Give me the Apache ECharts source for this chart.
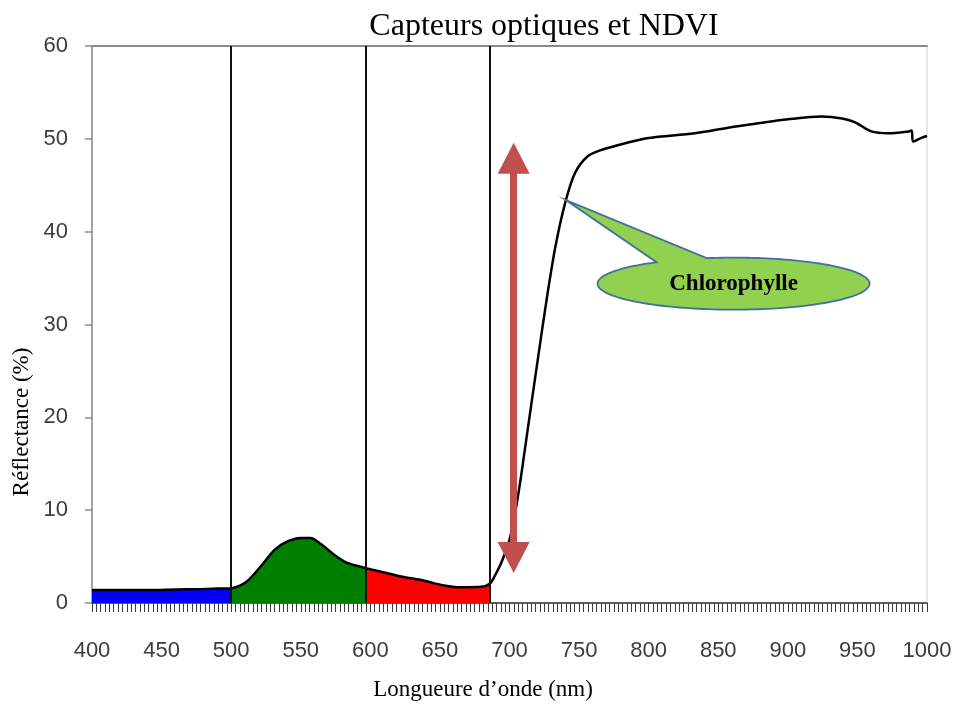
<!DOCTYPE html>
<html><head><meta charset="utf-8">
<script src="https://cdn.jsdelivr.net/npm/echarts@6/dist/echarts.min.js"></script>
<style>html,body{margin:0;padding:0;background:#fff}#c{width:958px;height:711px}</style>
</head><body><div id="c"></div>
<script>
// ---- data ----
const wavelengths = [400, 420, 440, 460, 480, 490, 500, 511, 521, 531, 540, 550, 557, 564, 574, 583, 597, 607, 622, 636, 651, 665, 680, 686, 689, 694, 700, 706, 713, 720, 727, 733, 740, 747, 756, 766, 785, 800, 833, 857, 880, 900, 924, 939, 948, 960, 972, 987, 989, 990, 996, 1000];
const reflectance = [1.4, 1.4, 1.4, 1.45, 1.5, 1.55, 1.6, 2.3, 3.9, 5.7, 6.6, 7.0, 7.0, 6.4, 5.2, 4.35, 3.75, 3.4, 2.85, 2.5, 1.95, 1.7, 1.75, 2.1, 2.8, 4.3, 6.8, 11.4, 18.6, 25.9, 33.0, 38.4, 43.1, 46.3, 48.1, 48.8, 49.6, 50.1, 50.6, 51.2, 51.7, 52.1, 52.4, 52.2, 51.8, 50.8, 50.6, 50.8, 50.9, 49.7, 50.1, 50.3];
const bandEdges = [500, 597, 686];          // vertical band separators (nm)
const bands = [                              // [from, to, colour]
  [400, 500, '#0000ff'],
  [500, 597, '#008000'],
  [597, 686, '#ff0000']
];
const arrowWavelength = 703;
const arrowRange = [4.9, 47.9];
const calloutTip = [740.5, 43.4];
const calloutCenter = [861, 34.4];
const calloutText = 'Chlorophylle';
const titleText = 'Capteurs optiques et NDVI';
const xName = 'Longueure d\u2019onde (nm)';
const yName = 'R\u00e9flectance (%)';

// ---- chart ----
const pts = wavelengths.map((w, i) => [w, reflectance[i]]);
const chart = echarts.init(document.getElementById('c'), null, {renderer: 'canvas'});
const tickFont = "'Liberation Sans', Arial, sans-serif";
const serif = "'Liberation Serif', 'Times New Roman', serif";
const SM = 0.3;

const bandSeries = bands.map((b, k) => ({
  type: 'line',
  data: pts.filter(p => p[0] >= b[0] && p[0] <= b[1]),
  smooth: SM,
  showSymbol: false,
  silent: true,
  lineStyle: {width: 0},
  areaStyle: {color: b[2], opacity: 1},
  z: 2,
  markLine: k === 2 ? {
    silent: true,
    symbol: ['triangle', 'triangle'],
    symbolSize: [32, 31],
    label: {show: false},
    lineStyle: {color: '#c0504d', width: 7, type: 'solid'},
    itemStyle: {color: '#c0504d'},
    data: [[{coord: [arrowWavelength, arrowRange[0]]}, {coord: [arrowWavelength, arrowRange[1]]}]],
    z: 6
  } : undefined
}));

chart.setOption({
  animation: false,
  title: {
    text: titleText, left: 539, top: 6, textAlign: 'center',
    textStyle: {fontFamily: serif, fontSize: 32, fontWeight: 'normal', color: '#000'}
  },
  grid: {left: 92, right: 31, top: 46, bottom: 108, show: true, borderColor: '#d0d0d0', borderWidth: 1},
  xAxis: [{
    type: 'value', min: 400, max: 1000, interval: 50,
    axisLine: {show: true, onZero: false, lineStyle: {color: '#333', width: 1.5}},
    axisTick: {show: true, length: 9, lineStyle: {color: '#333', width: 1}},
    minorTick: {show: true, splitNumber: 16, length: 9, lineStyle: {color: '#3a3a3a', width: 1}},
    axisLabel: {margin: 37, fontFamily: tickFont, fontSize: 22, color: '#3c3c3c', formatter: v => String(v)},
    splitLine: {show: false}
  }, {
    type: 'value', min: 400, max: 1000, position: 'top',
    axisLine: {show: true, onZero: false, lineStyle: {color: '#8a8a8a', width: 2}},
    axisTick: {show: false}, axisLabel: {show: false}, splitLine: {show: false}
  }],
  yAxis: {
    type: 'value', min: 0, max: 60, interval: 10,
    axisLine: {show: true, lineStyle: {color: '#8a8a8a', width: 1.5}},
    axisTick: {show: true, length: 7, lineStyle: {color: '#8a8a8a', width: 1.5}},
    axisLabel: {margin: 24, fontFamily: tickFont, fontSize: 22, color: '#3c3c3c'},
    splitLine: {show: false}
  },
  series: bandSeries.concat([{
    type: 'line',
    data: pts,
    smooth: SM,
    showSymbol: false,
    silent: true,
    lineStyle: {color: '#000', width: 2.5},
    z: 3,
    markLine: {
      silent: true, symbol: 'none', label: {show: false},
      lineStyle: {color: '#111', width: 2, type: 'solid'},
      data: bandEdges.map(v => ({xAxis: v}))
    }
  }])
});

// ---- callout anchored to data coordinates ----
const tip = chart.convertToPixel({gridIndex: 0}, calloutTip);
const ctr = chart.convertToPixel({gridIndex: 0}, calloutCenter);
const rx = 136, ry = 26;
const deg = Math.PI / 180;
const tA = 101.4, tB = 124.5 - 360;
const poly = [];
const N = 160;
for (let i = 0; i <= N; i++) {
  const t = (tA + (tB - tA) * i / N) * deg;
  poly.push([ctr[0] + rx * Math.cos(t), ctr[1] - ry * Math.sin(t)]);
}
poly.push(tip);
chart.setOption({
  graphic: [
    {type: 'polygon', shape: {points: poly}, z: 100,
     style: {fill: '#92d050', stroke: '#41719c', lineWidth: 1.8}},
    {type: 'text', x: ctr[0], y: ctr[1], z: 101,
     style: {text: calloutText, fill: '#000', font: 'bold 23px ' + serif, align: 'center', verticalAlign: 'middle'}},
    {type: 'text', x: 483, y: 690, z: 101,
     style: {text: xName, fill: '#000', font: '23px ' + serif, align: 'center', verticalAlign: 'middle'}},
    {type: 'text', x: 22, y: 422, rotation: Math.PI / 2, z: 101,
     style: {text: yName, fill: '#000', font: '23px ' + serif, align: 'center', verticalAlign: 'middle'}}
  ]
});
</script></body></html>
